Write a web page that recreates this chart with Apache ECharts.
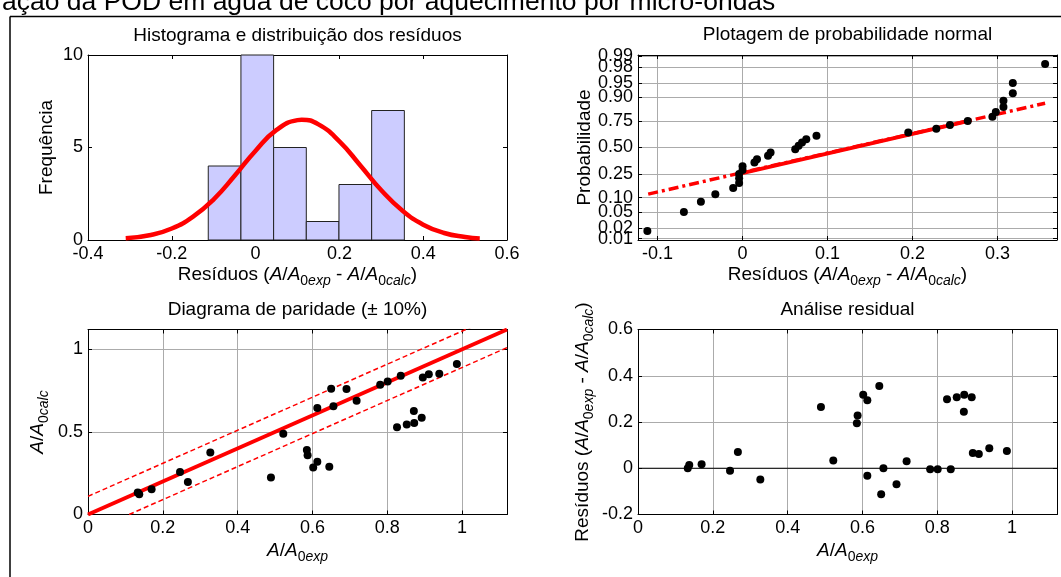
<!DOCTYPE html>
<html>
<head>
<meta charset="utf-8">
<script src="https://cdn.jsdelivr.net/npm/echarts@6/dist/echarts.min.js"></script>
<style>
html,body{margin:0;padding:0;background:#fff;}
#chart{width:1061px;height:577px;}
</style>
</head>
<body>
<div id="chart"></div>
<script>
// ---------------- data ----------------
const mainTitle = 'ação da POD em água de coco por aquecimento por micro-ondas';
const subTitles = ['Histograma e distribuição dos resíduos', 'Plotagem de probabilidade normal', 'Diagrama de paridade (± 10%)', 'Análise residual'];

// histogram of residuals
const binEdges = [-0.113, -0.035, 0.043, 0.121, 0.199, 0.277, 0.355];
const binCounts = [4, 10, 5, 1, 3, 7];
// fitted normal curve
const curveX = [-0.31, -0.25, -0.2, -0.15, -0.1, -0.05, 0, 0.05, 0.1, 0.11, 0.15, 0.2, 0.25, 0.3, 0.35, 0.4, 0.45, 0.5, 0.535];
const curveY = [0.09, 0.27, 0.62, 1.25, 2.2, 3.47, 4.83, 5.95, 6.48, 6.5, 6.25, 5.33, 4.03, 2.69, 1.59, 0.83, 0.38, 0.16, 0.08];

// observations
const aExp  = [0.133, 0.137, 0.170, 0.246, 0.267, 0.327, 0.489, 0.522, 0.585, 0.587, 0.602, 0.613, 0.613, 0.645, 0.650, 0.656, 0.691, 0.718, 0.781, 0.801, 0.826, 0.836, 0.852, 0.872, 0.871, 0.892, 0.895, 0.911, 0.939, 0.986];
const aCalc = [0.133, 0.123, 0.153, 0.257, 0.197, 0.376, 0.224, 0.489, 0.390, 0.359, 0.284, 0.319, 0.645, 0.289, 0.762, 0.656, 0.760, 0.688, 0.785, 0.805, 0.528, 0.840, 0.545, 0.554, 0.627, 0.585, 0.829, 0.849, 0.852, 0.911];
const resid = [0.000, 0.014, 0.017, -0.011, 0.070, -0.049, 0.265, 0.033, 0.195, 0.228, 0.318, 0.294, -0.032, 0.356, -0.112, 0.000, -0.069, 0.030, -0.004, -0.004, 0.298, -0.004, 0.307, 0.318, 0.244, 0.307, 0.066, 0.062, 0.087, 0.075];

// normal probability plot (sorted residuals vs normal score)
const probResid = [-0.112, -0.069, -0.049, -0.032, -0.011, -0.004, -0.004, -0.004, 0.000, 0.000, 0.014, 0.017, 0.030, 0.033, 0.062, 0.066, 0.070, 0.075, 0.087, 0.195, 0.228, 0.244, 0.265, 0.294, 0.298, 0.307, 0.307, 0.318, 0.318, 0.356];
const probScore = [-2.128, -1.645, -1.383, -1.192, -1.036, -0.903, -0.783, -0.674, -0.573, -0.477, -0.385, -0.297, -0.210, -0.126, -0.042, 0.042, 0.126, 0.210, 0.297, 0.385, 0.477, 0.573, 0.674, 0.783, 0.903, 1.036, 1.192, 1.383, 1.645, 2.128];
const probTickZ = [-2.326, -2.054, -1.645, -1.282, -0.674, 0, 0.674, 1.282, 1.645, 2.054, 2.326];
const probTickLabels = ['0.01', '0.02', '0.05', '0.10', '0.25', '0.50', '0.75', '0.90', '0.95', '0.98', '0.99'];
const probLabelSetA = [-2.326, -1.645, -1.282, -0.674, 0, 0.674, 1.282, 1.645, 2.326];
const probLabelSetB = [-2.054, 2.054];
const probXTicks = [-0.1, 0, 0.1, 0.2, 0.3];
const probFitDashX = [-0.111, 0.356];
const probFitDashZ = [-1.19, 1.13];
const probFitSolidX = [-0.004, 0.265];
const probFitSolidZ = [-0.674, 0.674];

// parity lines
const parityEnds = [0, 1.12];
const parityBand = 0.11;

// ---------------- styles ----------------
const FONT = '"Liberation Sans", Arial, Helvetica, sans-serif';
const TICK_FS = 18;
const LABEL_FS = 19;
const rich = {
  n: {fontFamily: FONT, fontSize: LABEL_FS, color: '#000', lineHeight: 22, verticalAlign: 'top'},
  i: {fontFamily: FONT, fontSize: LABEL_FS, color: '#000', lineHeight: 22, verticalAlign: 'top', fontStyle: 'italic'},
  s: {fontFamily: FONT, fontSize: 14, color: '#000', lineHeight: 16, verticalAlign: 'top', padding: [9, 0, 0, 0]},
  si: {fontFamily: FONT, fontSize: 14, color: '#000', lineHeight: 16, verticalAlign: 'top', padding: [9, 0, 0, 0], fontStyle: 'italic'}
};
const resName = '{n|Resíduos (}{i|A}{n|/}{i|A}{s|0}{si|exp}{n| - }{i|A}{n|/}{i|A}{s|0}{si|calc}{n|)}';
const expName = '{i|A}{n|/}{i|A}{s|0}{si|exp}';
const calcName = '{i|A}{n|/}{i|A}{s|0}{si|calc}';

const GRID_COLOR = '#ababab';

function baseAxis(grid, min, max, interval, extra) {
  const a = {
    type: 'value', gridIndex: grid, min: min, max: max,
    axisLine: {show: true, onZero: false, lineStyle: {color: '#000', width: 1}},
    axisTick: {show: true, inside: true, length: 4, lineStyle: {color: '#000', width: 1}},
    axisLabel: {color: '#000', fontSize: TICK_FS, fontFamily: FONT, margin: 5, lineHeight: 18, showMaxLabel: false, hideOverlap: false},
    splitLine: {show: false, lineStyle: {color: GRID_COLOR, width: 1}},
    nameTextStyle: {rich: rich, color: '#000', fontFamily: FONT, fontSize: LABEL_FS}
  };
  if (interval != null) a.interval = interval;
  return Object.assign(a, extra || {});
}
function mirror(grid, min, max, interval, pos, custom) {
  const a = baseAxis(grid, min, max, interval, {position: pos});
  a.axisLabel = {show: false};
  if (custom) a.axisTick.customValues = custom;
  return a;
}
function probFmt(v) {
  for (let i = 0; i < probTickZ.length; i++) if (Math.abs(probTickZ[i] - v) < 1e-6) return probTickLabels[i];
  return '';
}

const xAxes = [
  baseAxis(0, -0.4, 0.6, 0.2, {name: resName, nameLocation: 'middle', nameGap: 25}),
  baseAxis(1, -0.123, 0.370, null, {name: resName, nameLocation: 'middle', nameGap: 25}),
  baseAxis(2, 0, 1.12, 0.2, {name: expName, nameLocation: 'middle', nameGap: 27}),
  baseAxis(3, 0, 1.12, 0.2, {name: expName, nameLocation: 'middle', nameGap: 27}),
  mirror(0, -0.4, 0.6, 0.2, 'top'),
  mirror(1, -0.123, 0.370, null, 'top', probXTicks),
  mirror(2, 0, 1.12, 0.2, 'top'),
  mirror(3, 0, 1.12, 0.2, 'top')
];
xAxes[0].axisLabel.showMaxLabel = true;
xAxes[1].axisTick.customValues = probXTicks;
xAxes[1].axisLabel.customValues = probXTicks;
xAxes[1].axisLabel.showMinLabel = true;
xAxes[1].axisLabel.showMaxLabel = true;
xAxes[1].splitLine.show = true;
xAxes[2].splitLine.show = true;
xAxes[3].splitLine.show = true;

const yAxes = [
  baseAxis(0, 0, 10, 5, {name: 'Frequência', nameLocation: 'middle', nameGap: 32}),
  baseAxis(1, -2.36, 2.36, null, {name: 'Probabilidade', nameLocation: 'middle', nameGap: 44}),
  baseAxis(2, 0, 1.12, 0.5, {name: calcName, nameLocation: 'middle', nameGap: 38}),
  baseAxis(3, -0.2, 0.6, 0.2, {name: resName, nameLocation: 'middle', nameGap: 43}),
  mirror(0, 0, 10, 5, 'right'),
  mirror(1, -2.36, 2.36, null, 'right', probTickZ),
  mirror(2, 0, 1.12, 0.5, 'right'),
  mirror(3, -0.2, 0.6, 0.2, 'right'),
  // extra label-only axis for the overlapping probability labels
  baseAxis(1, -2.36, 2.36, null, {position: 'left'})
];
yAxes[0].axisLabel.showMaxLabel = true;
yAxes[3].axisLabel.showMaxLabel = true;
yAxes[1].axisTick.customValues = probTickZ;
yAxes[1].axisLabel.customValues = probLabelSetA;
yAxes[1].axisLabel.showMinLabel = true;
yAxes[1].axisLabel.showMaxLabel = true;
yAxes[1].axisLabel.formatter = probFmt;
yAxes[1].splitLine.show = true;
yAxes[2].splitLine.show = true;
yAxes[3].splitLine.show = true;
yAxes[8].axisLine.show = false;
yAxes[8].axisTick.show = false;
yAxes[8].axisLabel.customValues = probLabelSetB;
yAxes[8].axisLabel.showMinLabel = true;
yAxes[8].axisLabel.showMaxLabel = true;
yAxes[8].axisLabel.formatter = probFmt;

const histData = binCounts.map((c, i) => [binEdges[i], binEdges[i + 1], c]);
const curveData = curveX.map((x, i) => [x, curveY[i]]);
const probData = probResid.map((x, i) => [x, probScore[i]]);
const parityData = aExp.map((x, i) => [x, aCalc[i]]);
const residData = aExp.map((x, i) => [x, resid[i]]);

const dot = {type: 'scatter', symbol: 'circle', symbolSize: 8, itemStyle: {color: '#000', opacity: 1}, z: 5};

const option = {
  animation: false,
  backgroundColor: '#fff',
  grid: [
    {left: 88, top: 55, width: 419, height: 185},
    {left: 638, top: 55, width: 419, height: 185},
    {left: 88, top: 329.5, width: 419, height: 185},
    {left: 638, top: 329.5, width: 419, height: 185}
  ],
  xAxis: xAxes,
  yAxis: yAxes,
  series: [
    {
      type: 'custom', xAxisIndex: 0, yAxisIndex: 0, data: histData,
      encode: {x: [0, 1], y: 2},
      renderItem: function (params, api) {
        const p0 = api.coord([api.value(0), api.value(2)]);
        const p1 = api.coord([api.value(1), 0]);
        return {type: 'rect', shape: {x: p0[0], y: p0[1], width: p1[0] - p0[0], height: p1[1] - p0[1]},
          style: {fill: '#ccccff', stroke: '#222222', lineWidth: 1}};
      }
    },
    {type: 'line', xAxisIndex: 0, yAxisIndex: 0, data: curveData, smooth: true, symbol: 'none',
      lineStyle: {color: '#ff0000', width: 4.5}, z: 4},
    {type: 'line', xAxisIndex: 1, yAxisIndex: 1, data: probFitDashX.map((x, i) => [x, probFitDashZ[i]]), symbol: 'none',
      lineStyle: {color: '#ff0000', width: 3.5, type: [10, 4, 3, 4]}},
    {type: 'line', xAxisIndex: 1, yAxisIndex: 1, data: probFitSolidX.map((x, i) => [x, probFitSolidZ[i]]), symbol: 'none',
      lineStyle: {color: '#ff0000', width: 4}},
    Object.assign({xAxisIndex: 1, yAxisIndex: 1, data: probData}, dot),
    {type: 'line', xAxisIndex: 2, yAxisIndex: 2, data: [[parityEnds[0], parityEnds[0] + parityBand], [parityEnds[1], parityEnds[1] + parityBand]], symbol: 'none', clip: true,
      lineStyle: {color: '#ff0000', width: 1.5, type: [5, 3]}},
    {type: 'line', xAxisIndex: 2, yAxisIndex: 2, data: [[parityEnds[0] + parityBand, parityEnds[0]], [parityEnds[1], parityEnds[1] - parityBand]], symbol: 'none', clip: true,
      lineStyle: {color: '#ff0000', width: 1.5, type: [5, 3]}},
    {type: 'line', xAxisIndex: 2, yAxisIndex: 2, data: [[parityEnds[0], parityEnds[0]], [parityEnds[1], parityEnds[1]]], symbol: 'none', clip: true,
      lineStyle: {color: '#ff0000', width: 4}},
    Object.assign({xAxisIndex: 2, yAxisIndex: 2, data: parityData}, dot),
    {type: 'line', xAxisIndex: 3, yAxisIndex: 3, data: [[parityEnds[0], 0], [parityEnds[1], 0]], symbol: 'none',
      lineStyle: {color: '#000', width: 1}},
    Object.assign({xAxisIndex: 3, yAxisIndex: 3, data: residData}, dot)
  ],
  graphic: [
    {type: 'line', shape: {x1: 10, y1: 16.5, x2: 1061, y2: 16.5}, style: {stroke: '#000', lineWidth: 1.5}, z: 100},
    {type: 'line', shape: {x1: 10, y1: 16.5, x2: 10, y2: 577}, style: {stroke: '#000', lineWidth: 1.5}, z: 100},
    {type: 'text', x: 2, y: 3, style: {text: mainTitle, fontFamily: FONT, fontSize: 26.5, fill: '#000', textAlign: 'left', verticalAlign: 'middle'}},
    {type: 'text', x: 297.5, y: 36, style: {text: subTitles[0], fontFamily: FONT, fontSize: LABEL_FS, fill: '#000', align: 'center', verticalAlign: 'middle'}},
    {type: 'text', x: 847.5, y: 35, style: {text: subTitles[1], fontFamily: FONT, fontSize: LABEL_FS, fill: '#000', align: 'center', verticalAlign: 'middle'}},
    {type: 'text', x: 297.5, y: 310, style: {text: subTitles[2], fontFamily: FONT, fontSize: LABEL_FS, fill: '#000', align: 'center', verticalAlign: 'middle'}},
    {type: 'text', x: 847.5, y: 310, style: {text: subTitles[3], fontFamily: FONT, fontSize: LABEL_FS, fill: '#000', align: 'center', verticalAlign: 'middle'}}
  ]
};

const chart = echarts.init(document.getElementById('chart'), null, {renderer: 'canvas'});
chart.setOption(option);
</script>
</body>
</html>
